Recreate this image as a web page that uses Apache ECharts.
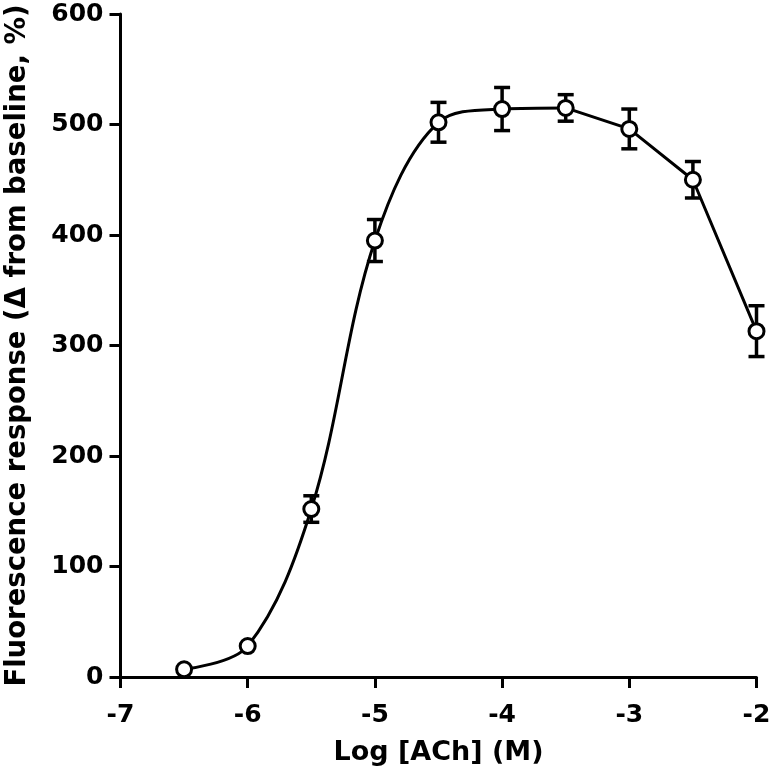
<!DOCTYPE html>
<html>
<head>
<meta charset="utf-8">
<script src="https://cdn.jsdelivr.net/npm/echarts@6/dist/echarts.min.js"></script>
<style>
  html, body { margin: 0; padding: 0; background: #fff; }
  #chart { width: 771px; height: 776px; }
</style>
</head>
<body>
<div id="chart"></div>
<script>
// log [ACh] (M) vs fluorescence response, mean and SEM
var logConc = [-6.5, -6, -5.5, -5, -4.5, -4, -3.5, -3, -2.5, -2];
var response = [7, 28, 152, 395, 502, 514, 515, 496, 450, 313];
var sem = [0, 0, 12, 19, 18, 19.5, 12, 18, 16.5, 23];
var xTicks = [-7, -6, -5, -4, -3, -2];
var yTicks = [0, 100, 200, 300, 400, 500, 600];
// the curve is smooth up to the plateau, then drawn point to point
var smoothUpTo = 6;

var FONT = "'DejaVu Sans', sans-serif";

var chart = echarts.init(document.getElementById("chart"));

var points = logConc.map(function (x, i) {
  return [x, response[i]];
});
var bars = logConc.map(function (x, i) {
  return [x, response[i] - sem[i], response[i] + sem[i]];
});

chart.setOption({
  backgroundColor: "#fff",
  animation: false,
  grid: {
    left: 120.5,
    right: 14.5,
    top: 14,
    bottom: 99,
    outerBoundsMode: "none"
  },
  xAxis: {
    type: "value",
    min: xTicks[0],
    max: xTicks[xTicks.length - 1],
    interval: 1,
    name: "Log [ACh] (M)",
    nameLocation: "middle",
    nameGap: 62,
    nameTextStyle: { color: "#000", fontSize: 27, fontWeight: "bold", fontFamily: FONT },
    axisLine: { onZero: false, lineStyle: { color: "#000", width: 3 } },
    axisTick: { length: 11, lineStyle: { color: "#000", width: 3 } },
    axisLabel: { color: "#000", fontSize: 25, fontWeight: "bold", fontFamily: FONT, margin: 26 },
    splitLine: { show: false }
  },
  yAxis: {
    type: "value",
    min: yTicks[0],
    max: yTicks[yTicks.length - 1],
    interval: 100,
    name: "Fluorescence response (\u0394 from baseline, %)",
    nameLocation: "middle",
    nameGap: 89,
    nameTextStyle: { color: "#000", fontSize: 27.5, fontWeight: "bold", fontFamily: FONT },
    axisLine: { show: true, lineStyle: { color: "#000", width: 3 } },
    axisTick: { show: true, length: 11, lineStyle: { color: "#000", width: 3 } },
    axisLabel: { color: "#000", fontSize: 25, fontWeight: "bold", fontFamily: FONT, margin: 17 },
    splitLine: { show: false }
  },
  series: [
    {
      type: "custom",
      z: 2,
      silent: true,
      data: bars,
      renderItem: function (params, api) {
        if (api.value(2) - api.value(1) <= 0) return null;
        var lo = api.coord([api.value(0), api.value(1)]);
        var hi = api.coord([api.value(0), api.value(2)]);
        var hw = 8;
        var style = { stroke: "#000", lineWidth: 3.5, fill: null };
        return {
          type: "group",
          children: [
            { type: "line", shape: { x1: lo[0], y1: lo[1], x2: hi[0], y2: hi[1] }, style: style },
            { type: "line", shape: { x1: hi[0] - hw, y1: hi[1], x2: hi[0] + hw, y2: hi[1] }, style: style },
            { type: "line", shape: { x1: lo[0] - hw, y1: lo[1], x2: lo[0] + hw, y2: lo[1] }, style: style }
          ]
        };
      }
    },
    {
      type: "line",
      z: 3,
      data: points.slice(0, smoothUpTo + 1),
      smooth: 0.35,
      showSymbol: false,
      lineStyle: { color: "#000", width: 3 }
    },
    {
      type: "line",
      z: 3,
      data: points.slice(smoothUpTo),
      showSymbol: false,
      lineStyle: { color: "#000", width: 3 }
    },
    {
      type: "scatter",
      z: 4,
      data: points,
      symbol: "circle",
      symbolSize: 15,
      itemStyle: { color: "#fff", borderColor: "#000", borderWidth: 3, opacity: 1 }
    }
  ]
});
</script>
</body>
</html>
